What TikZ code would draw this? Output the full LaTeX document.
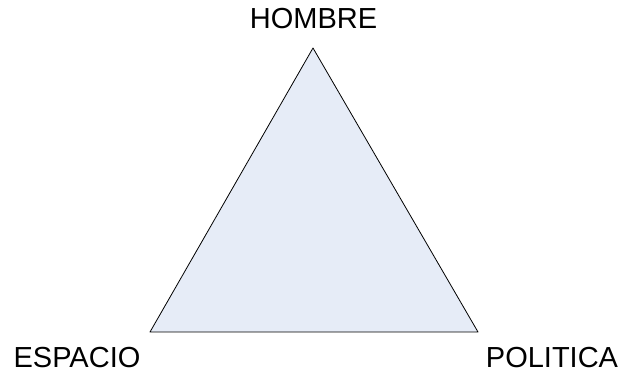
\documentclass[tikz,border=0pt]{standalone}
\usepackage{fontspec}
\setmainfont{Liberation Sans}
\definecolor{trifill}{HTML}{E6ECF7}
\begin{document}
\begin{tikzpicture}[x=1pt, y=1pt,
          lbl/.style={font=\fontsize{29}{34}\selectfont, anchor=base, inner sep=0pt}]
        \useasboundingbox (0,0) rectangle (621,372);
        \coordinate (top) at (313,324);
        \coordinate (left) at (150,40);
        \coordinate (right) at (478,40);
        \draw[fill=trifill, line width=0.8pt, line join=round] (top) -- (left) -- (right) -- cycle;
        \node[lbl] (hombre) at (313.5,343) {HOMBRE};
        \node[lbl] (espacio) at (77,5) {ESPACIO};
        \node[lbl] (politica) at (552,5) {POLITICA};
      \end{tikzpicture}
\end{document}
